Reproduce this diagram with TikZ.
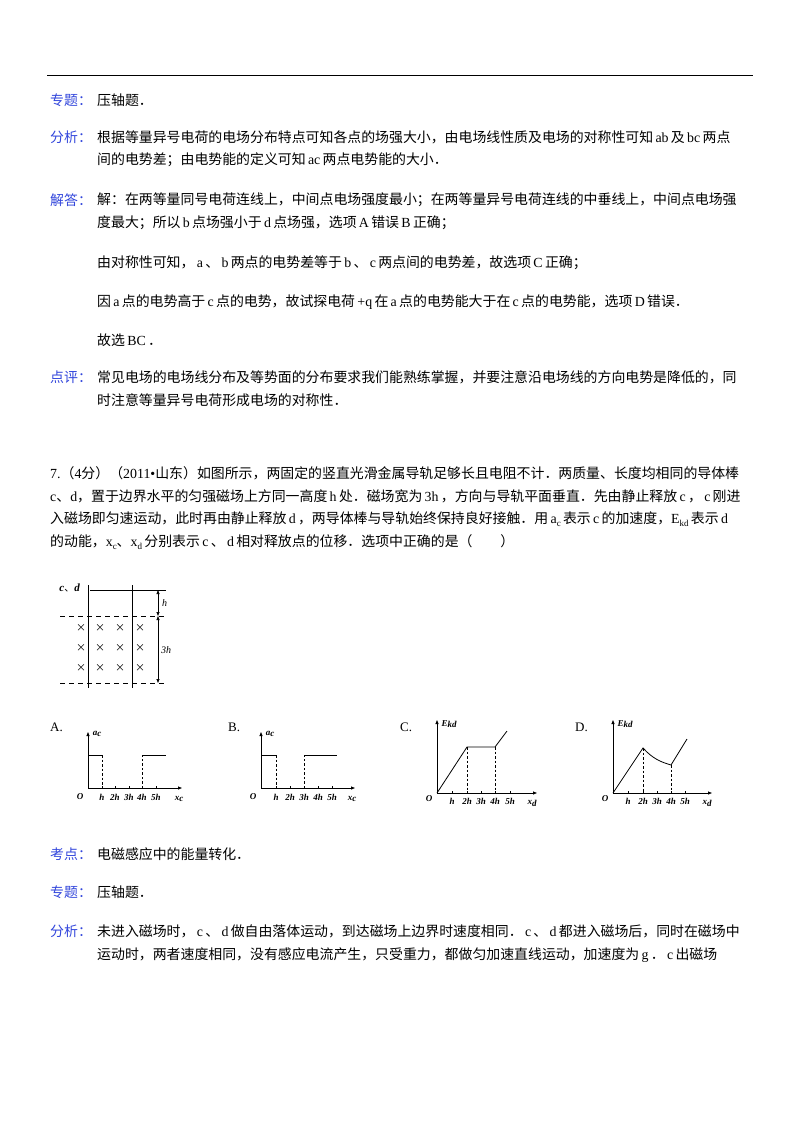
\documentclass[tikz,border=0pt]{standalone}
\usepackage{fontspec}
\setmainfont{Noto Sans CJK SC}
\newfontfamily\lat{Liberation Serif}
\usetikzlibrary{arrows.meta}
\definecolor{lab}{RGB}{50,70,220}
\newcommand{\subx}[1]{\raisebox{-0.35ex}{\fontsize{9}{9}\selectfont\lat #1}}
\newcommand{\lw}[1]{\,{\lat #1}\,}
\begin{document}
\begin{tikzpicture}[x=1pt,y=-1pt,
  txt/.style={anchor=west,inner sep=0pt,font=\fontsize{13.9}{15}\selectfont},
  lbl/.style={txt,text=lab},
  gl/.style={inner sep=0pt,font=\fontsize{9}{9}\selectfont\lat\bfseries\itshape},
  ax/.style={line width=0.8pt,-{Triangle[length=4pt,width=3pt]}},
  cv/.style={line width=0.8pt},
  dsh/.style={line width=0.7pt,dash pattern=on 2.5pt off 2pt},
  dim/.style={line width=0.7pt,{Triangle[length=4pt,width=3pt]}-{Triangle[length=4pt,width=3pt]}}]
\useasboundingbox (0,0) rectangle (800,1132);
\fill[white] (0,0) rectangle (800,1132);
\draw[line width=0.8pt] (47,75) -- (753,75);
% text
\node[lbl] (l1) at (50,100) {专题：};
\node[txt] (t1) at (97,100) {压轴题．};
\node[lbl] (l2) at (50,137) {分析：};
\node[txt] (t2) at (97,137) {根据等量异号电荷的电场分布特点可知各点的场强大小，由电场线性质及电场的对称性可知\lw{ab}及\lw{bc}两点};
\node[txt] (t3) at (97,160) {间的电势差；由电势能的定义可知\lw{ac}两点电势能的大小．};
\node[lbl] (l3) at (50,200) {解答：};
\node[txt] (t4) at (97,200) {解：在两等量同号电荷连线上，中间点电场强度最小；在两等量异号电荷连线的中垂线上，中间点电场强};
\node[txt] (t5) at (97,223) {度最大；所以\lw{b}点场强小于\lw{d}点场强，选项\lw{A}错误\lw{B}正确；};
\node[txt] (t6) at (97,263) {由对称性可知，\lw{a}、\lw{b}两点的电势差等于\lw{b}、\lw{c}两点间的电势差，故选项\lw{C}正确；};
\node[txt] (t7) at (97,302) {因\lw{a}点的电势高于\lw{c}点的电势，故试探电荷\lw{+q}在\lw{a}点的电势能大于在\lw{c}点的电势能，选项\lw{D}错误．};
\node[txt] (t8) at (97,340) {故选\lw{BC}．};
\node[lbl] (l4) at (50,377) {点评：};
\node[txt] (t9) at (97,377) {常见电场的电场线分布及等势面的分布要求我们能熟练掌握，并要注意沿电场线的方向电势是降低的，同};
\node[txt] (t10) at (97,400) {时注意等量异号电荷形成电场的对称性．};
\node[txt] (q1) at (50,473) {{\lat 7.}（{\lat 4}分）（{\lat 2011•}山东）如图所示，两固定的竖直光滑金属导轨足够长且电阻不计．两质量、长度均相同的导体棒};
\node[txt] (q2) at (50,496) {{\lat c}、{\lat d}，置于边界水平的匀强磁场上方同一高度\lw{h}处．磁场宽为\lw{3h}，方向与导轨平面垂直．先由静止释放\lw{c}，\lw{c}刚进};
\node[txt] (q3) at (50,519) {入磁场即匀速运动，此时再由静止释放\lw{d}，两导体棒与导轨始终保持良好接触．用\,{\lat a}\subx{c}\,表示\lw{c}的加速度，{\lat E}\subx{kd}\,表示\lw{d}};
\node[txt] (q4) at (50,542) {的动能，{\lat x}\subx{c}、{\lat x}\subx{d}\,分别表示\lw{c}、\lw{d}相对释放点的位移．选项中正确的是（\quad\quad）};
\node[lbl] (l5) at (50,854) {考点：};
\node[txt] (t11) at (97,854) {电磁感应中的能量转化．};
\node[lbl] (l6) at (50,892) {专题：};
\node[txt] (t12) at (97,892) {压轴题．};
\node[lbl] (l7) at (50,931) {分析：};
\node[txt] (t13) at (97,931) {未进入磁场时，\lw{c}、\lw{d}做自由落体运动，到达磁场上边界时速度相同．\lw{c}、\lw{d}都进入磁场后，同时在磁场中};
\node[txt] (t14) at (97,955) {运动时，两者速度相同，没有感应电流产生，只受重力，都做匀加速直线运动，加速度为\lw{g}．\lw{c}出磁场};
% magnetic figure
\draw[cv] (88,585) -- (88,688);
\draw[cv] (132,585) -- (132,688);
\draw[cv] (90,590) -- (166,590);
\node[gl,anchor=east,font=\fontsize{11}{11}\selectfont\lat\bfseries\itshape] (cd) at (80,588) {c{\normalfont\fontsize{10}{10}\selectfont 、}d};
\draw[dsh,dash pattern=on 5pt off 4pt] (60,616) -- (164,616);
\draw[dsh,dash pattern=on 5pt off 4pt] (60,683) -- (164,683);
\foreach \xx in {81,100,120,140}{\foreach \yy in {628,648,668}{
  \node[inner sep=0pt,font=\fontsize{10}{10}\selectfont] at (\xx,\yy) {×};}}
\coordinate (d1) at (158,590); \coordinate (d2) at (158,616); \coordinate (d3) at (158,683);
\draw[dim] (d1) -- (d2);
\draw[dim] (d2) -- (d3);
\node[gl,anchor=west,font=\fontsize{10}{10}\selectfont\lat\itshape] (hh) at (162,603) {h};
\node[gl,anchor=west,font=\fontsize{10}{10}\selectfont\lat\itshape] (h3) at (161,650) {3h};
% option labels
\node[txt,font=\fontsize{13}{13}\selectfont\lat] (A) at (50,727) {A.};
\node[txt,font=\fontsize{13}{13}\selectfont\lat] (B) at (228,727) {B.};
\node[txt,font=\fontsize{13}{13}\selectfont\lat] (C) at (400,727) {C.};
\node[txt,font=\fontsize{13}{13}\selectfont\lat] (D) at (575,727) {D.};
% graph A
\begin{scope}[shift={(88,788)}]
\draw[ax] (0,0) -- (94,0); \draw[ax] (0,0) -- (0,-56);
\foreach \t/\s in {14/h,27/2h,41/3h,54/4h,68/5h}{\draw[cv] (\t,0)--(\t,-2); \node[gl] at (\t,9) {\s};}
\node[gl] at (-8,9) {O};
\node[gl] at (91,11) {x\subx{c}};
\node[gl] at (9,-54) {a\subx{c}};
\draw[cv] (0,-33) -- (14,-33); \draw[dsh] (14,-33) -- (14,0);
\draw[dsh] (54,0) -- (54,-33); \draw[cv] (54,-33) -- (78,-33);
\end{scope}
% graph B
\begin{scope}[shift={(261,788)}]
\draw[ax] (0,0) -- (94,0); \draw[ax] (0,0) -- (0,-56);
\foreach \t/\s in {15/h,29/2h,43/3h,57/4h,71/5h}{\draw[cv] (\t,0)--(\t,-2); \node[gl] at (\t,9) {\s};}
\node[gl] at (-8,9) {O};
\node[gl] at (91,11) {x\subx{c}};
\node[gl] at (9,-54) {a\subx{c}};
\draw[cv] (0,-33) -- (15,-33); \draw[dsh] (15,-33) -- (15,0);
\draw[dsh] (43,0) -- (43,-33); \draw[cv] (43,-33) -- (76,-33);
\end{scope}
% graph C
\begin{scope}[shift={(437,793)}]
\draw[ax] (0,0) -- (100,0); \draw[ax] (0,0) -- (0,-73);
\foreach \t/\s in {15/h,30/2h,44/3h,58/4h,73/5h}{\draw[cv] (\t,0)--(\t,-2); \node[gl] at (\t,8) {\s};}
\node[gl] at (-8,6) {O};
\node[gl] at (95,10) {x\subx{d}};
\node[gl] at (12,-69) {E\subx{kd}};
\draw[cv] (0,0) -- (30,-46) -- (58,-46) -- (70,-62);
\draw[dsh] (30,-46) -- (30,0); \draw[dsh] (58,-46) -- (58,0);
\end{scope}
% graph D
\begin{scope}[shift={(613,793)}]
\draw[ax] (0,0) -- (99,0); \draw[ax] (0,0) -- (0,-73);
\foreach \t/\s in {15/h,30/2h,44/3h,58/4h,72/5h}{\draw[cv] (\t,0)--(\t,-2); \node[gl] at (\t,8) {\s};}
\node[gl] at (-8,6) {O};
\node[gl] at (94,10) {x\subx{d}};
\node[gl] at (12,-69) {E\subx{kd}};
\draw[cv] (0,0) -- (30,-45) .. controls (40,-34) and (48,-31) .. (58,-28) -- (74,-54);
\draw[dsh] (30,-45) -- (30,0); \draw[dsh] (58,-28) -- (58,0);
\end{scope}
\end{tikzpicture}
\end{document}
